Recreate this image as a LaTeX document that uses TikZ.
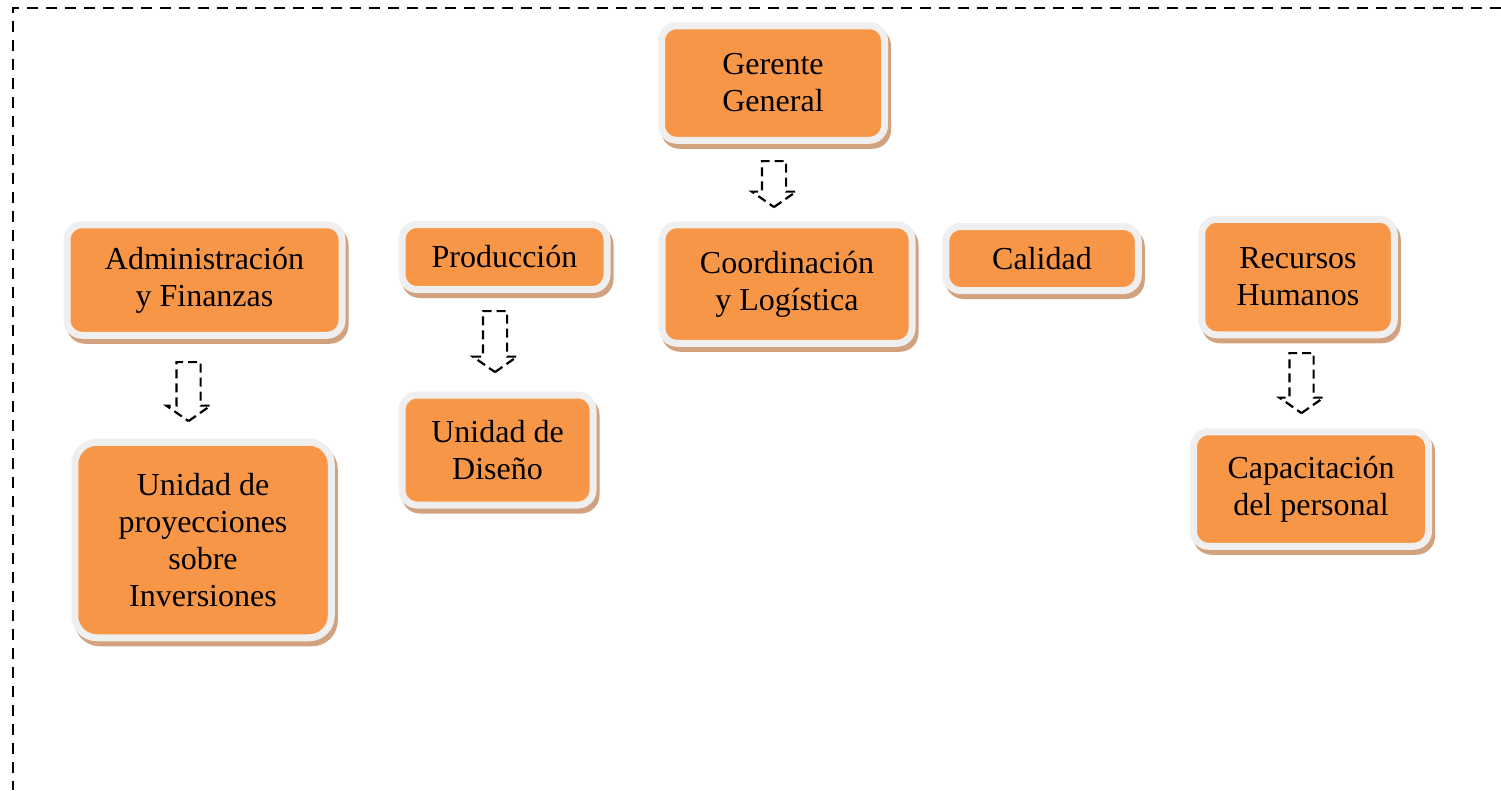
\documentclass[tikz,border=0pt]{standalone}
\usepackage{fontspec}
\setmainfont{Liberation Serif}
\usetikzlibrary{shapes.arrows,shadows}
\definecolor{unitorange}{HTML}{F79646}
\definecolor{unitrim}{HTML}{EFEFEF}
\definecolor{unitshadow}{HTML}{D2A27F}
\tikzset{unit/.style = {rectangle,rounded corners=15pt,fill=unitorange,draw=unitrim,line width=7pt,
  align=center,inner sep=0pt,font=\fontsize{32}{37}\selectfont,
  drop shadow={shadow xshift=3pt,shadow yshift=-5pt,fill=unitshadow,draw=unitshadow,line width=7pt,opacity=1}}}
\tikzset{downarrow/.style = {single arrow,draw,dash pattern=on 9pt off 5pt,line width=2.2pt,
  rotate=-90,anchor=tail,inner xsep=0pt,inner ysep=11pt,minimum width=42pt,
  single arrow head extend=10pt,single arrow tip angle=110}}
\tikzset{frame/.style = {dash pattern=on 11pt off 8pt,line width=2.5pt}}

\begin{document}
\begin{tikzpicture}[x=1pt,y=-1pt]
\useasboundingbox (0,0) rectangle (1501,790);

\draw[frame] (1501,8) -- (13,8) -- (13,790);

\node[unit,minimum width=223pt,minimum height=114.5pt] (gerente) at (773,83) {Gerente\\General};
\node[unit,minimum width=275pt,minimum height=110.5pt] (admin) at (204.5,280) {Administración\\y Finanzas};
\node[unit,minimum width=205pt,minimum height=65pt] (produccion) at (504.5,257) {Producción};
\node[unit,minimum width=250pt,minimum height=118.5pt] (coordinacion) at (787,284) {Coordinación\\y Logística};
\node[unit,minimum width=192.5pt,minimum height=64pt] (calidad) at (1042,258.5) {Calidad};
\node[unit,minimum width=192.5pt,minimum height=115.5pt] (rrhh) at (1298,277) {Recursos\\Humanos};
\node[unit,rounded corners=22pt,minimum width=256.5pt,minimum height=195.5pt] (proyecciones) at (203,540)
  {Unidad de\\proyecciones\\sobre\\Inversiones};
\node[unit,minimum width=191pt,minimum height=110pt] (diseno) at (497.5,450) {Unidad de\\Diseño};
\node[unit,minimum width=235pt,minimum height=114.5pt] (capacitacion) at (1311,489) {Capacitación\\del personal};

\node[downarrow,minimum height=46pt] (gerarrow) at (774,160) {};
\node[downarrow,minimum height=59pt] (admarrow) at (188.5,361) {};
\node[downarrow,minimum height=61pt] (prodarrow) at (495,310) {};
\node[downarrow,minimum height=60pt] (rrhharrow) at (1301.5,352) {};

\end{tikzpicture}
\end{document}
